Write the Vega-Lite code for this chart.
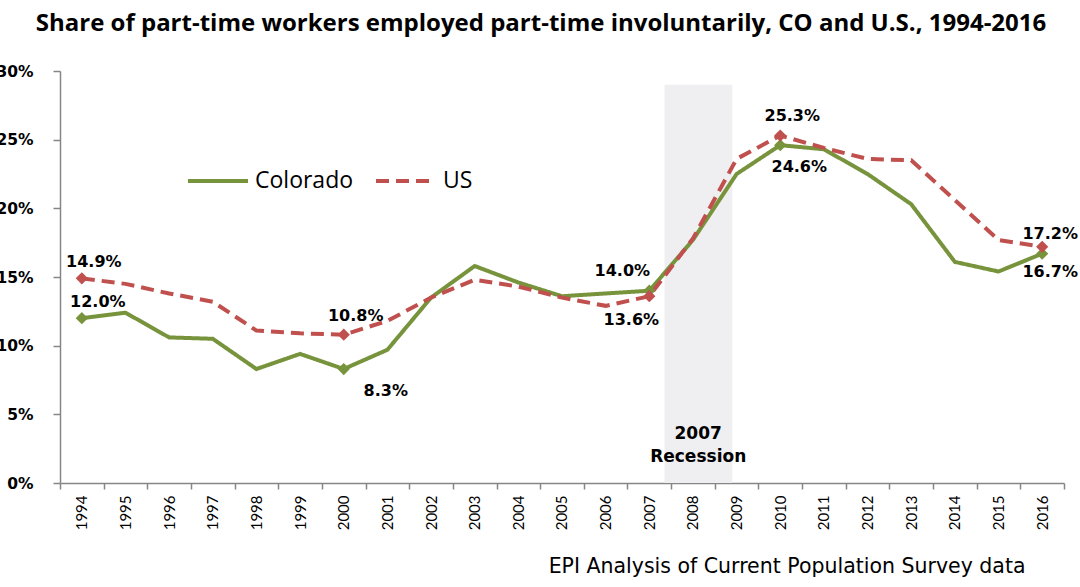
{
  "$schema": "https://vega.github.io/schema/vega-lite/v6.json",
  "width": 1004,
  "height": 412,
  "autosize": {"type": "none"},
  "padding": {"left": 60, "top": 71, "right": 16, "bottom": 104},
  "background": "white",
  "title": {
    "text": "Share of part-time workers employed part-time involuntarily, CO and U.S., 1994-2016",
    "font": "Open Sans",
    "fontSize": 24,
    "fontWeight": "bold",
    "color": "black",
    "anchor": "middle",
    "frame": "group",
    "dx": -21,
    "baseline": "alphabetic",
    "offset": 9
  },
  "config": {
    "view": {"stroke": null},
    "axis": {"grid": false, "domainColor": "#868686", "tickColor": "#868686", "domainWidth": 1.5, "tickWidth": 1.5}
  },
  "datasets": {
    "rows": [
      {"year": 1994, "series": "Colorado", "value": 0.120},
      {"year": 1995, "series": "Colorado", "value": 0.124},
      {"year": 1996, "series": "Colorado", "value": 0.106},
      {"year": 1997, "series": "Colorado", "value": 0.105},
      {"year": 1998, "series": "Colorado", "value": 0.083},
      {"year": 1999, "series": "Colorado", "value": 0.094},
      {"year": 2000, "series": "Colorado", "value": 0.083},
      {"year": 2001, "series": "Colorado", "value": 0.097},
      {"year": 2002, "series": "Colorado", "value": 0.135},
      {"year": 2003, "series": "Colorado", "value": 0.158},
      {"year": 2004, "series": "Colorado", "value": 0.146},
      {"year": 2005, "series": "Colorado", "value": 0.136},
      {"year": 2006, "series": "Colorado", "value": 0.138},
      {"year": 2007, "series": "Colorado", "value": 0.140},
      {"year": 2008, "series": "Colorado", "value": 0.177},
      {"year": 2009, "series": "Colorado", "value": 0.225},
      {"year": 2010, "series": "Colorado", "value": 0.246},
      {"year": 2011, "series": "Colorado", "value": 0.243},
      {"year": 2012, "series": "Colorado", "value": 0.225},
      {"year": 2013, "series": "Colorado", "value": 0.203},
      {"year": 2014, "series": "Colorado", "value": 0.161},
      {"year": 2015, "series": "Colorado", "value": 0.154},
      {"year": 2016, "series": "Colorado", "value": 0.167},
      {"year": 1994, "series": "US", "value": 0.149},
      {"year": 1995, "series": "US", "value": 0.145},
      {"year": 1996, "series": "US", "value": 0.138},
      {"year": 1997, "series": "US", "value": 0.132},
      {"year": 1998, "series": "US", "value": 0.111},
      {"year": 1999, "series": "US", "value": 0.109},
      {"year": 2000, "series": "US", "value": 0.108},
      {"year": 2001, "series": "US", "value": 0.118},
      {"year": 2002, "series": "US", "value": 0.135},
      {"year": 2003, "series": "US", "value": 0.148},
      {"year": 2004, "series": "US", "value": 0.143},
      {"year": 2005, "series": "US", "value": 0.135},
      {"year": 2006, "series": "US", "value": 0.129},
      {"year": 2007, "series": "US", "value": 0.136},
      {"year": 2008, "series": "US", "value": 0.178},
      {"year": 2009, "series": "US", "value": 0.236},
      {"year": 2010, "series": "US", "value": 0.253},
      {"year": 2011, "series": "US", "value": 0.244},
      {"year": 2012, "series": "US", "value": 0.236},
      {"year": 2013, "series": "US", "value": 0.235},
      {"year": 2014, "series": "US", "value": 0.206},
      {"year": 2015, "series": "US", "value": 0.177},
      {"year": 2016, "series": "US", "value": 0.172}
    ],
    "recession": [
      {"start": 2007.35, "end": 2008.9, "bottom": 0, "top": 0.29}
    ],
    "recessionLabel": [
      {"year": 2008.12, "value": 0.0355, "label": "2007\nRecession"}
    ]
  },
  "data": {"name": "rows"},
  "encoding": {
    "x": {
      "field": "year",
      "type": "quantitative",
      "scale": {"domain": [1993.5, 2016.5], "nice": false, "zero": false},
      "axis": {
        "values": [1993.5, 1994.5, 1995.5, 1996.5, 1997.5, 1998.5, 1999.5, 2000.5, 2001.5, 2002.5, 2003.5, 2004.5, 2005.5, 2006.5, 2007.5, 2008.5, 2009.5, 2010.5, 2011.5, 2012.5, 2013.5, 2014.5, 2015.5, 2016.5],
        "labelExpr": "datum.value > 2016 ? '' : '' + (datum.value + 0.5)",
        "labelOffset": 21.8,
        "labelAngle": -90,
        "labelAlign": "right",
        "labelBaseline": "middle",
        "labelFont": "Lato",
        "labelFontSize": 15,
        "labelColor": "black",
        "labelPadding": 6,
        "labelOverlap": false,
        "labelFlush": false,
        "labelBound": false,
        "tickSize": 6,
        "title": "EPI Analysis of Current Population Survey data",
        "titleFont": "DejaVu Sans",
        "titleFontSize": 20.5,
        "titleFontWeight": "normal",
        "titleColor": "black",
        "titleX": 965,
        "titleY": 83,
        "titleAlign": "right",
        "titleBaseline": "middle",
        "titleAngle": 0
      }
    },
    "y": {
      "field": "value",
      "type": "quantitative",
      "scale": {"domain": [0, 0.3], "nice": false},
      "axis": {
        "values": [0, 0.05, 0.1, 0.15, 0.2, 0.25, 0.3],
        "format": ".0%",
        "labelFont": "DejaVu Sans",
        "labelFontWeight": "bold",
        "labelFontSize": 15.5,
        "labelColor": "black",
        "labelPadding": 20,
        "tickSize": 7,
        "title": null
      }
    }
  },
  "layer": [
    {
      "data": {"name": "recession"},
      "mark": {"type": "rect", "color": "#EFEFF2"},
      "encoding": {
        "x": {"field": "start", "type": "quantitative"},
        "x2": {"field": "end"},
        "y": {"field": "bottom", "type": "quantitative"},
        "y2": {"field": "top"}
      }
    },
    {
      "mark": {"type": "line", "strokeWidth": 4},
      "encoding": {
        "color": {
          "field": "series",
          "type": "nominal",
          "scale": {"domain": ["Colorado", "US"], "range": ["#77933C", "#C0504D"]},
          "legend": {
            "title": null,
            "orient": "none",
            "legendX": 126,
            "legendY": 78,
            "direction": "horizontal",
            "symbolType": "stroke",
            "symbolSize": 3600,
            "symbolStrokeWidth": 4,
            "labelFont": "Open Sans",
            "labelFontSize": 23,
            "labelColor": "black",
            "labelOffset": 5,
            "columnPadding": 14
          }
        },
        "strokeDash": {
          "field": "series",
          "type": "nominal",
          "scale": {"domain": ["Colorado", "US"], "range": [[1, 0], [13, 7]]},
          "legend": {
            "title": null,
            "orient": "none",
            "legendX": 126,
            "legendY": 78,
            "direction": "horizontal",
            "symbolType": "stroke",
            "symbolSize": 3600,
            "symbolStrokeWidth": 4,
            "labelFont": "Open Sans",
            "labelFontSize": 23,
            "labelColor": "black",
            "labelOffset": 5,
            "columnPadding": 14
          }
        }
      }
    },
    {
      "transform": [{"filter": {"field": "year", "oneOf": [1994, 2000, 2007, 2010, 2016]}}],
      "mark": {"type": "point", "shape": "diamond", "filled": true, "size": 150, "opacity": 1},
      "encoding": {
        "color": {"field": "series", "type": "nominal", "legend": null}
      }
    },
    {
      "transform": [{"filter": "datum.year == 1994 && datum.series == 'US'"}],
      "mark": {"type": "text", "font": "DejaVu Sans", "fontWeight": "bold", "fontSize": 16, "color": "black", "dx": 12, "dy": -16},
      "encoding": {"text": {"field": "value", "format": ".1%"}}
    },
    {
      "transform": [{"filter": "datum.year == 1994 && datum.series == 'Colorado'"}],
      "mark": {"type": "text", "font": "DejaVu Sans", "fontWeight": "bold", "fontSize": 16, "color": "black", "dx": 16, "dy": -16},
      "encoding": {"text": {"field": "value", "format": ".1%"}}
    },
    {
      "transform": [{"filter": "datum.year == 2000 && datum.series == 'US'"}],
      "mark": {"type": "text", "font": "DejaVu Sans", "fontWeight": "bold", "fontSize": 16, "color": "black", "dx": 12, "dy": -19},
      "encoding": {"text": {"field": "value", "format": ".1%"}}
    },
    {
      "transform": [{"filter": "datum.year == 2000 && datum.series == 'Colorado'"}],
      "mark": {"type": "text", "font": "DejaVu Sans", "fontWeight": "bold", "fontSize": 16, "color": "black", "dx": 42, "dy": 22},
      "encoding": {"text": {"field": "value", "format": ".1%"}}
    },
    {
      "transform": [{"filter": "datum.year == 2007 && datum.series == 'Colorado'"}],
      "mark": {"type": "text", "font": "DejaVu Sans", "fontWeight": "bold", "fontSize": 16, "color": "black", "dx": -27, "dy": -20},
      "encoding": {"text": {"field": "value", "format": ".1%"}}
    },
    {
      "transform": [{"filter": "datum.year == 2007 && datum.series == 'US'"}],
      "mark": {"type": "text", "font": "DejaVu Sans", "fontWeight": "bold", "fontSize": 16, "color": "black", "dx": -18, "dy": 24},
      "encoding": {"text": {"field": "value", "format": ".1%"}}
    },
    {
      "transform": [{"filter": "datum.year == 2010 && datum.series == 'US'"}],
      "mark": {"type": "text", "font": "DejaVu Sans", "fontWeight": "bold", "fontSize": 16, "color": "black", "dx": 12, "dy": -20},
      "encoding": {"text": {"field": "value", "format": ".1%"}}
    },
    {
      "transform": [{"filter": "datum.year == 2010 && datum.series == 'Colorado'"}],
      "mark": {"type": "text", "font": "DejaVu Sans", "fontWeight": "bold", "fontSize": 16, "color": "black", "dx": 19, "dy": 22},
      "encoding": {"text": {"field": "value", "format": ".1%"}}
    },
    {
      "transform": [{"filter": "datum.year == 2016 && datum.series == 'US'"}],
      "mark": {"type": "text", "font": "DejaVu Sans", "fontWeight": "bold", "fontSize": 16, "color": "black", "dx": 8, "dy": -13},
      "encoding": {"text": {"field": "value", "format": ".1%"}}
    },
    {
      "transform": [{"filter": "datum.year == 2016 && datum.series == 'Colorado'"}],
      "mark": {"type": "text", "font": "DejaVu Sans", "fontWeight": "bold", "fontSize": 16, "color": "black", "dx": 8, "dy": 18},
      "encoding": {"text": {"field": "value", "format": ".1%"}}
    },
    {
      "data": {"name": "recessionLabel"},
      "mark": {"type": "text", "font": "DejaVu Sans", "fontWeight": "bold", "fontSize": 17, "color": "black", "lineHeight": 23, "lineBreak": "\n", "baseline": "middle", "align": "center"},
      "encoding": {
        "text": {"field": "label", "type": "nominal"}
      }
    }
  ]
}
